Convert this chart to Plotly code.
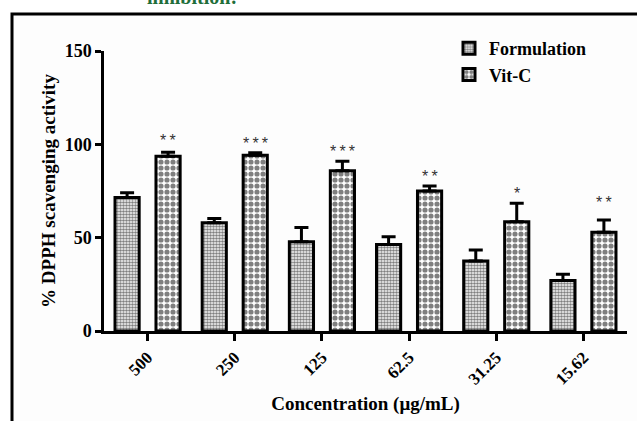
import plotly.graph_objects as go

categories = ["500", "250", "125", "62.5", "31.25", "15.62"]
formulation = [71.5, 58.0, 47.8, 46.4, 37.5, 27.0]
formulation_err = [2.5, 2.3, 7.7, 4.1, 5.9, 3.4]
vitc = [93.6, 94.2, 85.8, 75.0, 58.5, 52.9]
vitc_err = [2.2, 1.3, 5.2, 2.7, 9.9, 6.6]
sig_labels = ["**", "***", "***", "**", "*", "**"]
sig_y = [102.3, 100.7, 96.0, 82.6, 73.9, 68.6]

FONT = "Liberation Serif"

fig = go.Figure()
fig.add_trace(go.Bar(
    x=categories, y=formulation, name="<b>Formulation</b>",
    error_y=dict(type="data", symmetric=False, array=formulation_err,
                 arrayminus=[0] * len(formulation_err),
                 color="black", thickness=3, width=7),
    marker=dict(color="white", line=dict(color="black", width=3),
                pattern=dict(shape=".", size=3, solidity=0.6,
                             fgcolor="black", bgcolor="white")),
))
fig.add_trace(go.Bar(
    x=categories, y=vitc, name="<b>Vit-C</b>",
    error_y=dict(type="data", symmetric=False, array=vitc_err,
                 arrayminus=[0] * len(vitc_err),
                 color="black", thickness=3, width=7),
    marker=dict(color="white", line=dict(color="black", width=3),
                pattern=dict(shape=".", size=6, solidity=0.58,
                             fgcolor="black", bgcolor="white")),
))

for i, (lab, yy) in enumerate(zip(sig_labels, sig_y)):
    fig.add_annotation(x=i, y=yy, text="\u2009".join(lab), showarrow=False, xshift=20.5,
                       yanchor="middle",
                       font=dict(family="Liberation Sans", size=16, color="#333333"))

# title fragment at top (cut off in the original)
fig.add_annotation(xref="paper", yref="paper", x=(192 - 104) / 523, y=(331 - 10) / 280,
                   xanchor="center", yanchor="bottom", showarrow=False,
                   text="<b>inhibition:</b>",
                   font=dict(family=FONT, size=20, color="#1f6e3a"))

# outer frame
fig.add_shape(type="rect", xref="paper", yref="paper",
              x0=(12 - 104) / 523, y0=(331 - 14) / 280, x1=1.2, y1=-0.6,
              line=dict(color="black", width=3), fillcolor="#fdfdfd", layer="below")

fig.update_layout(
    width=637, height=421,
    margin=dict(l=104, r=10, t=51, b=90, autoexpand=False),
    paper_bgcolor="white", plot_bgcolor="#fdfdfd",
    barmode="group", bargap=0.06, bargroupgap=0.41,
    font=dict(family=FONT, color="black"),
    showlegend=True,
    legend=dict(x=(449 - 104) / 523, y=(331 - 30) / 280, xanchor="left", yanchor="top",
                bgcolor="rgba(0,0,0,0)", font=dict(family=FONT, size=18, color="black"),
                tracegroupgap=0),
)
fig.update_xaxes(
    automargin=False,
    showline=True, linecolor="black", linewidth=2.5, showgrid=False, zeroline=False,
    ticks="outside", ticklen=7, tickwidth=2.5, tickcolor="black", tickangle=-45,
    tickfont=dict(family=FONT, size=17, color="black", weight="bold"),
    title=dict(text="<b>Concentration (μg/mL)</b>", standoff=10,
               font=dict(family=FONT, size=19, color="black")),
    range=[-0.5, 5.5],
)
fig.update_yaxes(
    automargin=False,
    showline=True, linecolor="black", linewidth=2.5, showgrid=False, zeroline=False,
    ticks="outside", ticklen=6, tickwidth=2.5, tickcolor="black",
    tickvals=[0, 50, 100, 150], range=[0, 150],
    tickfont=dict(family=FONT, size=18, color="black", weight="bold"),
    title=dict(text="<b>% DPPH scavenging activity</b>", standoff=5,
               font=dict(family=FONT, size=19, color="black")),
)

fig.write_html("out.html", config={"displayModeBar": False},
               post_script="document.body.style.margin='0';document.body.style.overflow='hidden';")
